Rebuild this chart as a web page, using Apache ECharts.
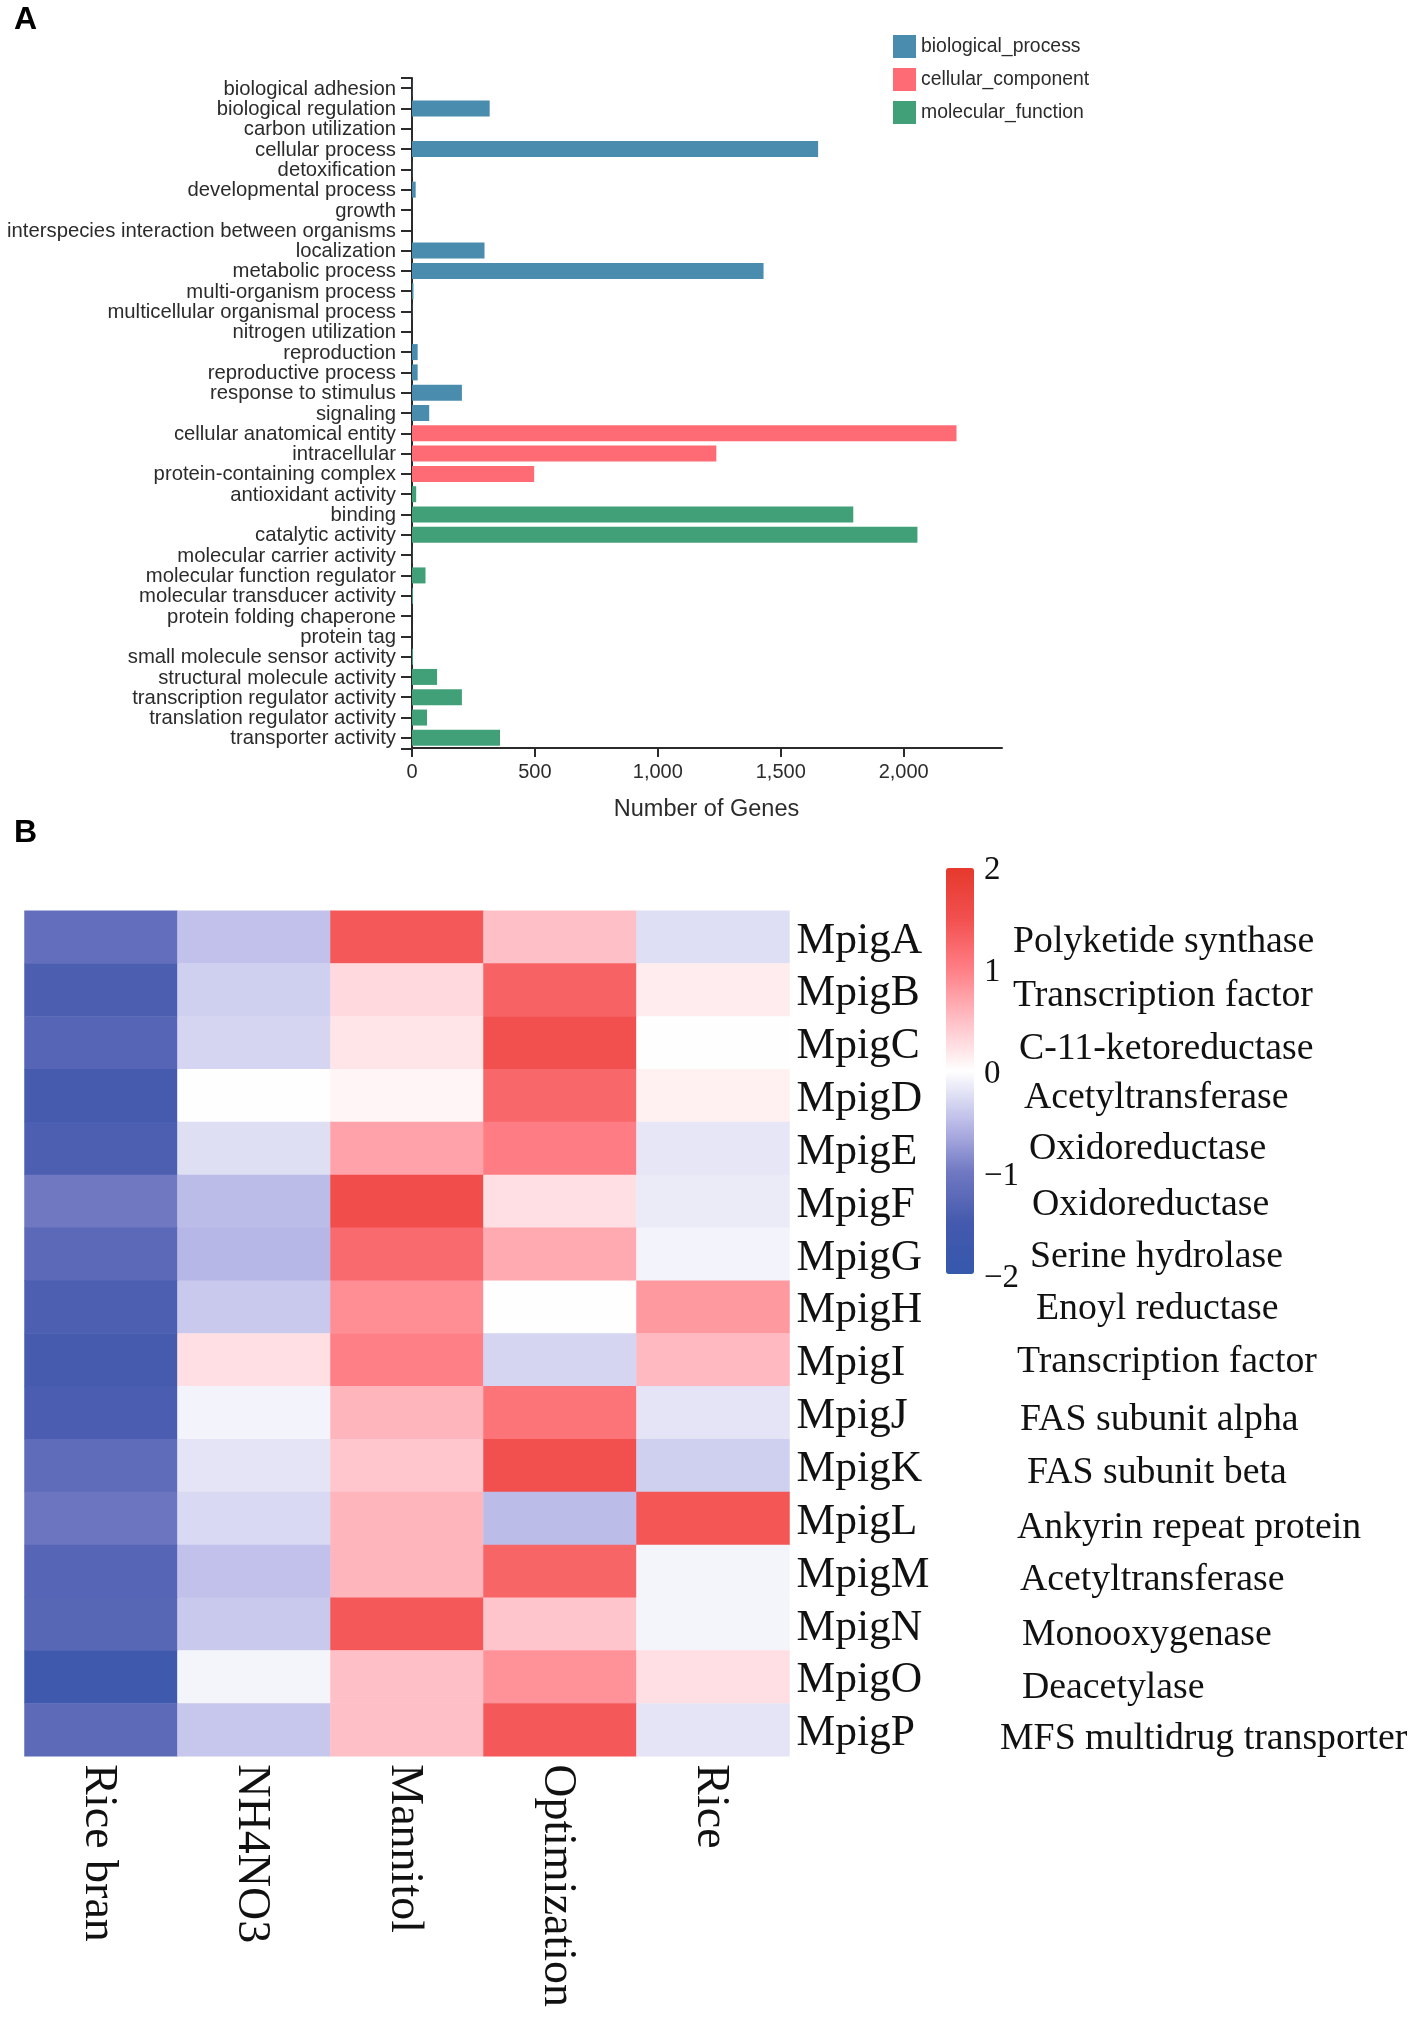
<!DOCTYPE html>
<html>
<head>
<meta charset="utf-8">
<style>html,body{margin:0;padding:0;background:#fff}#chart{width:1417px;height:2021px}</style>
<script src="https://cdn.jsdelivr.net/npm/echarts@6/dist/echarts.min.js"></script>
</head>
<body>
<div id="chart"></div>
<script>
const goTerms = ['biological adhesion','biological regulation','carbon utilization','cellular process','detoxification','developmental process','growth','interspecies interaction between organisms','localization','metabolic process','multi-organism process','multicellular organismal process','nitrogen utilization','reproduction','reproductive process','response to stimulus','signaling','cellular anatomical entity','intracellular','protein-containing complex','antioxidant activity','binding','catalytic activity','molecular carrier activity','molecular function regulator','molecular transducer activity','protein folding chaperone','protein tag','small molecule sensor activity','structural molecule activity','transcription regulator activity','translation regulator activity','transporter activity'];
const biologicalProcess = [1,316,0,1652,1,15,0,0,295,1430,6,1,0,23,23,203,70,null,null,null,null,null,null,null,null,null,null,null,null,null,null,null,null];
const cellularComponent = [null,null,null,null,null,null,null,null,null,null,null,null,null,null,null,null,null,2215,1238,497,null,null,null,null,null,null,null,null,null,null,null,null,null];
const molecularFunction = [null,null,null,null,null,null,null,null,null,null,null,null,null,null,null,null,null,null,null,null,17,1795,2056,1,55,4,0,0,4,102,203,61,358];

const conditions = ['Rice bran','NH4NO3','Mannitol','Optimization','Rice'];
const genes = ['MpigA','MpigB','MpigC','MpigD','MpigE','MpigF','MpigG','MpigH','MpigI','MpigJ','MpigK','MpigL','MpigM','MpigN','MpigO','MpigP'];
const expression = [
 [-1.15,-0.46,1.42,0.50,-0.25],
 [-1.42,-0.36,0.30,1.31,0.15],
 [-1.30,-0.31,0.20,1.50,-0.01],
 [-1.48,-0.01,0.08,1.26,0.12],
 [-1.40,-0.24,0.73,1.03,-0.19],
 [-1.00,-0.50,1.56,0.25,-0.15],
 [-1.24,-0.54,1.22,0.67,-0.09],
 [-1.40,-0.40,0.89,-0.01,0.80],
 [-1.48,0.25,1.00,-0.31,0.55],
 [-1.43,-0.09,0.58,1.13,-0.20],
 [-1.20,-0.20,0.44,1.50,-0.36],
 [-1.04,-0.28,0.58,-0.50,1.44],
 [-1.30,-0.46,0.58,1.28,-0.08],
 [-1.28,-0.40,1.41,0.45,-0.08],
 [-1.68,-0.08,0.50,0.85,0.25],
 [-1.23,-0.42,0.50,1.41,-0.20]
];
const annotations = ['Polyketide synthase','Transcription factor','C-11-ketoreductase','Acetyltransferase','Oxidoreductase','Oxidoreductase','Serine hydrolase','Enoyl reductase','Transcription factor','FAS subunit alpha','FAS subunit beta','Ankyrin repeat protein','Acetyltransferase','Monooxygenase','Deacetylase','MFS multidrug transporter'];
const colorbarTicks = ['2','1','0','\u22121','\u22122'];

// layout of the hand-placed annotation column
const annotationX = [1013,1013,1019,1024,1029,1032,1030,1036,1017,1020,1027,1017,1020,1022,1022,1000];
const annotationY = [942,996,1049,1098,1149,1205,1257,1309,1362,1420,1473,1528,1580,1635,1688,1739];
const colorbarTickY = [870,972,1074,1176,1278];

const SANS = '"Liberation Sans", Arial, sans-serif';
const SERIF = '"Liberation Serif", "Times New Roman", serif';
const INK = '#2b2b2b';
const heatData = [];
expression.forEach((row, r) => row.forEach((v, c) => heatData.push([c, r, v])));

function barSeries(name, data, color) {
  return {name, type: 'bar', stack: 'go', data, barWidth: 16, xAxisIndex: 0, yAxisIndex: 0,
    itemStyle: {color}, emphasis: {disabled: true}};
}
function label(text, x, y, size, family, extra) {
  return {type: 'text', x, y, silent: true, style: Object.assign({text, fontSize: size, fontFamily: family,
    fill: '#111', verticalAlign: 'middle', align: 'left'}, extra || {})};
}
function rule(x1, y1, x2, y2) {
  return {type: 'line', silent: true, shape: {x1, y1, x2, y2}, style: {stroke: INK, lineWidth: 2}};
}
const tagged = v => '{t|' + v + '}';

const chart = echarts.init(document.getElementById('chart'), null, {renderer: 'canvas'});
chart.setOption({
  animation: false,
  backgroundColor: '#fff',
  legend: {
    data: ['biological_process','cellular_component','molecular_function'],
    left: 888, top: 30, orient: 'vertical', itemWidth: 23, itemHeight: 23, itemGap: 10, icon: 'rect',
    textStyle: {fontFamily: SANS, fontSize: 19.4, color: INK}
  },
  grid: [
    {left: 412, top: 78, width: 590, height: 670},
    {left: 24.5, top: 910.7, width: 765, height: 845.6}
  ],
  xAxis: [
    {type: 'value', gridIndex: 0, min: 0, max: 2400, interval: 500,
     name: 'Number of Genes', nameLocation: 'middle', nameGap: 50,
     nameTextStyle: {fontFamily: SANS, fontSize: 23.5, color: INK, padding: [0,0,0,-1]},
     axisLine: {show: true, lineStyle: {color: INK, width: 2}},
     axisTick: {show: true, length: 9, lineStyle: {color: INK, width: 2}},
     axisLabel: {fontFamily: SANS, fontSize: 20, color: INK, margin: 14, showMaxLabel: false,
       formatter: v => v.toLocaleString('en-US')},
     splitLine: {show: false}},
    {type: 'category', gridIndex: 1, data: conditions, position: 'bottom',
     axisLine: {show: false}, axisTick: {show: false},
     axisLabel: {rotate: -90, margin: 8, interval: 0, formatter: tagged,
       rich: {t: {fontFamily: SERIF, fontSize: 46, color: '#111', padding: [5,0,0,0]}}},
     splitArea: {show: false}}
  ],
  yAxis: [
    {type: 'category', gridIndex: 0, data: goTerms, inverse: true,
     axisLine: {show: true, onZero: false, lineStyle: {color: INK, width: 2}},
     axisTick: {show: true, alignWithLabel: true, length: 11, lineStyle: {color: INK, width: 2}},
     axisLabel: {margin: 16, interval: 0, formatter: tagged,
       rich: {t: {fontFamily: SANS, fontSize: 20.3, color: INK, padding: [2,0,0,0]}}}},
    {type: 'category', gridIndex: 1, data: genes, inverse: true, position: 'right',
     axisLine: {show: false}, axisTick: {show: false},
     axisLabel: {margin: 7, interval: 0, formatter: tagged,
       rich: {t: {fontFamily: SERIF, fontSize: 43.5, color: '#111', padding: [8,0,0,0]}}},
     splitArea: {show: false}}
  ],
  visualMap: {
    type: 'continuous', seriesIndex: 3, min: -2, max: 2, calculable: false, realtime: false,
    left: 946, top: 868, itemWidth: 28, itemHeight: 406, text: ['', ''], padding: 0, showLabel: false,
    textStyle: {fontSize: 1, color: 'transparent'},
    inRange: {color: ['#3558ad','#4459ad','#7078c2','#bcbce9','#ffffff','#ffbfc6','#ff7f86','#f2504f','#e5392c']}
  },
  series: [
    barSeries('biological_process', biologicalProcess, '#4a8cad'),
    barSeries('cellular_component', cellularComponent, '#ff6b74'),
    barSeries('molecular_function', molecularFunction, '#42a078'),
    {type: 'heatmap', xAxisIndex: 1, yAxisIndex: 1, data: heatData, emphasis: {disabled: true}, progressive: 0}
  ],
  graphic: {elements: [
    label('A', 14, 20, 32, SANS, {fontWeight: 'bold', fill: '#000'}),
    label('B', 14, 833, 32, SANS, {fontWeight: 'bold', fill: '#000'}),
    rule(401, 78, 412, 78),
    rule(401, 749, 412, 749)
  ].concat(
    annotations.map((t, i) => label(t, annotationX[i], annotationY[i], 37.8, SERIF)),
    colorbarTicks.map((t, i) => label(t, 984, colorbarTickY[i], 33, SERIF))
  )}
});
</script>
</body>
</html>
